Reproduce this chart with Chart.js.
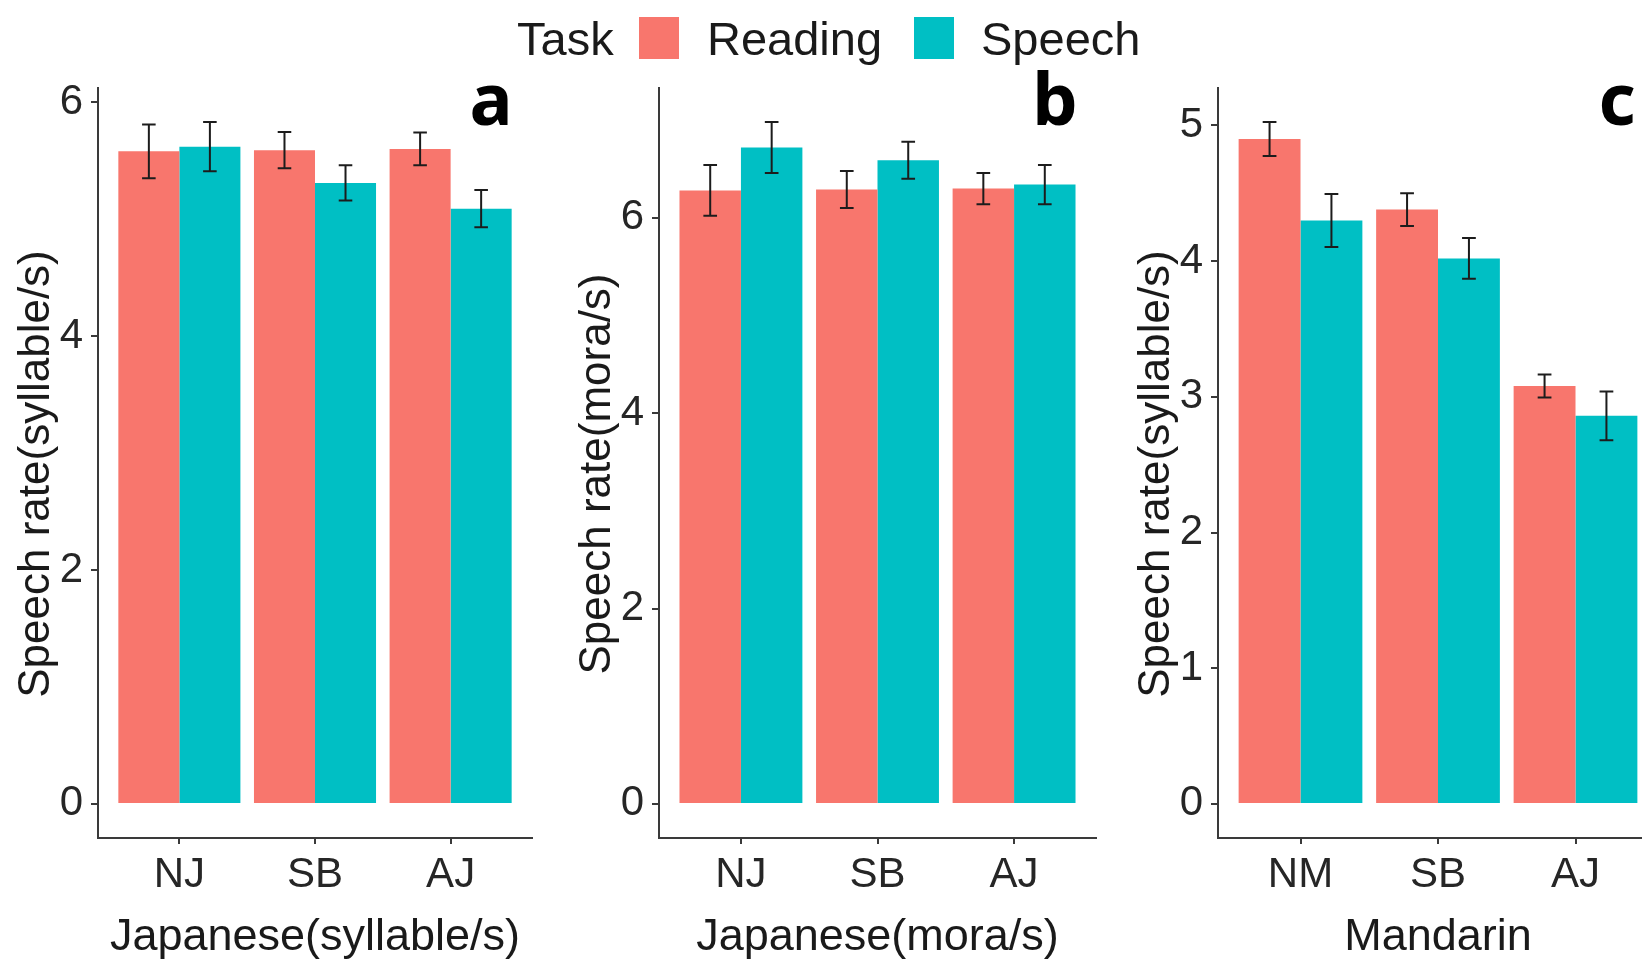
<!DOCTYPE html>
<html>
<head>
<meta charset="utf-8">
<title>Speech rate by task</title>
<script src="https://cdn.jsdelivr.net/npm/chart.js@4.4.1/dist/chart.umd.min.js"></script>
<style>
  html, body { margin: 0; padding: 0; background: #ffffff; width: 1642px; height: 964px; overflow: hidden; }
  #fig { position: relative; width: 1642px; height: 964px; overflow: hidden; background: #ffffff; }
  #fig canvas { position: absolute; top: 0; }
  .lg { position: absolute; top: 15px; font-family: 'Liberation Sans', Arial, sans-serif; font-size: 47px; line-height: 47px; color: #1a1a1a; white-space: nowrap; }
  .sw { position: absolute; top: 17px; width: 40px; height: 42px; }
</style>
</head>
<body>
<div id="fig">
  <canvas id="panelA" width="534" height="964" style="left:0px"></canvas>
  <canvas id="panelB" width="537" height="964" style="left:561px"></canvas>
  <canvas id="panelC" width="540" height="964" style="left:1120px"></canvas>

  <span class="lg" style="left:517px">Task</span>
  <span class="sw" id="swReading" style="left:639px"></span>
  <span class="lg" style="left:707px">Reading</span>
  <span class="sw" id="swSpeech" style="left:914px"></span>
  <span class="lg" style="left:981px">Speech</span>
</div>

<script>
// Task series (legend order)
const tasks = ['Reading', 'Speech'];
const taskColors = ['#F8766D', '#00BFC4'];

// Panel a: Japanese, syllables per second
const groupsA = ['NJ', 'SB', 'AJ'];
const readingA = [5.58, 5.59, 5.60];
const readingErrA = [0.23, 0.155, 0.14];
const speechA = [5.62, 5.31, 5.09];
const speechErrA = [0.21, 0.15, 0.16];
const yTicksA = [0, 2, 4, 6];

// Panel b: Japanese, morae per second
const groupsB = ['NJ', 'SB', 'AJ'];
const readingB = [6.28, 6.29, 6.30];
const readingErrB = [0.26, 0.19, 0.16];
const speechB = [6.72, 6.59, 6.34];
const speechErrB = [0.26, 0.19, 0.20];
const yTicksB = [0, 2, 4, 6];

// Panel c: Mandarin, syllables per second
const groupsC = ['NM', 'SB', 'AJ'];
const readingC = [4.90, 4.38, 3.08];
const readingErrC = [0.125, 0.12, 0.085];
const speechC = [4.30, 4.02, 2.86];
const speechErrC = [0.195, 0.15, 0.18];
const yTicksC = [0, 1, 2, 3, 4, 5];

document.getElementById('swReading').style.background = taskColors[0];
document.getElementById('swSpeech').style.background = taskColors[1];

const FONT = "'Liberation Sans', Arial, sans-serif";
const AXIS_COLOR = '#3a3a3a';
const TEXT_COLOR = '#262626';

// Whiskers (mean ± error), the rotated y-axis title and the panel tag letter
const panelExtras = {
  id: 'panelExtras',
  afterDatasetsDraw(chart, args, opts) {
    const ctx = chart.ctx;
    const xs = chart.scales.x, ys = chart.scales.y;
    const capHalf = (xs.getPixelForValue(1.05) - xs.getPixelForValue(1));
    ctx.save();
    ctx.strokeStyle = '#1c1c1c';
    ctx.lineWidth = 2;
    chart.data.datasets.forEach((ds, di) => {
      const meta = chart.getDatasetMeta(di);
      meta.data.forEach((bar, i) => {
        const v = ds.data[i].y, e = ds.errors[i];
        const yTop = ys.getPixelForValue(v + e);
        const yBot = ys.getPixelForValue(v - e);
        const x = bar.x;
        ctx.beginPath();
        ctx.moveTo(x, yTop); ctx.lineTo(x, yBot);
        ctx.moveTo(x - capHalf, yTop); ctx.lineTo(x + capHalf, yTop);
        ctx.moveTo(x - capHalf, yBot); ctx.lineTo(x + capHalf, yBot);
        ctx.stroke();
      });
    });
    ctx.restore();
  },
  afterDraw(chart, args, opts) {
    const ctx = chart.ctx;
    const area = chart.chartArea;
    ctx.save();
    // y-axis title, sitting close to the tick labels
    ctx.font = "44px " + FONT;
    ctx.fillStyle = '#1a1a1a';
    ctx.textAlign = 'center';
    ctx.textBaseline = 'middle';
    ctx.translate(area.left - 61, (area.top + area.bottom) / 2 + 11);
    ctx.rotate(-Math.PI / 2);
    ctx.fillText(opts.yTitle, 0, 0);
    ctx.restore();

    ctx.save();
    ctx.font = "bold 72px 'Noto Sans', 'Liberation Sans', sans-serif";
    ctx.fillStyle = '#000000';
    ctx.textAlign = 'center';
    ctx.textBaseline = 'alphabetic';
    ctx.fillText(opts.tag, area.right - 41, area.top + 37);
    ctx.restore();
  }
};

function makePanel(canvasId, p) {
  const top = Math.max(
    ...p.reading.map((v, i) => v + p.readingErr[i]),
    ...p.speech.map((v, i) => v + p.speechErr[i])
  );
  const series = [
    { values: p.reading, errors: p.readingErr },
    { values: p.speech, errors: p.speechErr }
  ];
  return new Chart(document.getElementById(canvasId), {
    type: 'bar',
    data: {
      datasets: series.map((s, k) => ({
        label: tasks[k],
        data: s.values.map((v, i) => ({ x: i + 1, y: v })),
        errors: s.errors,
        backgroundColor: taskColors[k],
        borderWidth: 0,
        barPercentage: 1,
        categoryPercentage: 0.9
      }))
    },
    options: {
      responsive: false,
      animation: false,
      devicePixelRatio: 1,
      events: [],
      layout: { padding: { top: 88, left: 0, right: 2, bottom: 0 } },
      plugins: {
        legend: { display: false },
        tooltip: { enabled: false },
        panelExtras: { tag: p.tag, yTitle: p.yTitle }
      },
      scales: {
        x: {
          type: 'linear',
          min: 0.4,
          max: 3.6,
          offset: false,
          grid: { display: true, offset: false, drawOnChartArea: false, drawTicks: true, tickLength: 6, color: AXIS_COLOR, lineWidth: 2 },
          border: { display: true, color: AXIS_COLOR, width: 2 },
          afterBuildTicks: (scale) => { scale.ticks = p.groups.map((g, i) => ({ value: i + 1 })); },
          afterFit: (scale) => { scale.height = 126; scale.paddingLeft = 0; scale.paddingRight = 0; },
          ticks: {
            autoSkip: false,
            maxRotation: 0,
            padding: 6,
            color: TEXT_COLOR,
            font: { family: FONT, size: 42 },
            callback: (v) => p.groups[Math.round(v) - 1]
          },
          title: {
            display: true,
            text: p.xTitle,
            color: '#1a1a1a',
            font: { family: FONT, size: 45 },
            padding: { top: 0, bottom: -1 }
          }
        },
        y: {
          type: 'linear',
          min: -0.05 * top,
          max: 1.05 * top,
          grid: { display: true, drawOnChartArea: false, drawTicks: true, tickLength: 7, color: AXIS_COLOR, lineWidth: 2 },
          border: { display: true, color: AXIS_COLOR, width: 2 },
          afterBuildTicks: (scale) => { scale.ticks = p.yTicks.map(v => ({ value: v })); },
          afterFit: (scale) => { scale.width = 98; scale.paddingTop = 0; scale.paddingBottom = 0; },
          ticks: {
            padding: 8,
            color: TEXT_COLOR,
            font: { family: FONT, size: 42 }
          },
          title: { display: false }
        }
      }
    },
    plugins: [panelExtras]
  });
}

makePanel('panelA', {
  groups: groupsA, reading: readingA, readingErr: readingErrA,
  speech: speechA, speechErr: speechErrA, yTicks: yTicksA,
  xTitle: 'Japanese(syllable/s)', yTitle: 'Speech rate(syllable/s)', tag: 'a'
});
makePanel('panelB', {
  groups: groupsB, reading: readingB, readingErr: readingErrB,
  speech: speechB, speechErr: speechErrB, yTicks: yTicksB,
  xTitle: 'Japanese(mora/s)', yTitle: 'Speech rate(mora/s)', tag: 'b'
});
makePanel('panelC', {
  groups: groupsC, reading: readingC, readingErr: readingErrC,
  speech: speechC, speechErr: speechErrC, yTicks: yTicksC,
  xTitle: 'Mandarin', yTitle: 'Speech rate(syllable/s)', tag: 'c'
});
</script>
</body>
</html>
